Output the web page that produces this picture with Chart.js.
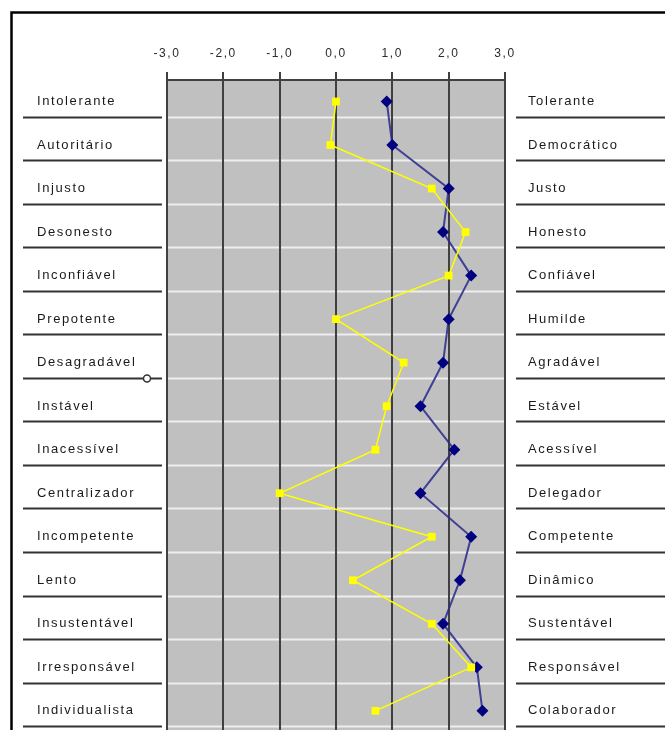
<!DOCTYPE html>
<html>
<head>
<meta charset="utf-8">
<script src="https://cdn.jsdelivr.net/npm/chart.js@4.4.1/dist/chart.umd.min.js"></script>
<style>
  html, body { margin: 0; padding: 0; background: #fff; }
  #wrap { width: 665px; height: 730px; position: relative; }
</style>
</head>
<body>
<div id="wrap"><canvas id="c"></canvas></div>
<script>
// Semantic differential: negative pole on the left, positive pole on the right
const leftLabels = ['Intolerante', 'Autoritário', 'Injusto', 'Desonesto', 'Inconfiável',
  'Prepotente', 'Desagradável', 'Instável', 'Inacessível', 'Centralizador',
  'Incompetente', 'Lento', 'Insustentável', 'Irresponsável', 'Individualista'];
const rightLabels = ['Tolerante', 'Democrático', 'Justo', 'Honesto', 'Confiável',
  'Humilde', 'Agradável', 'Estável', 'Acessível', 'Delegador',
  'Competente', 'Dinâmico', 'Sustentável', 'Responsável', 'Colaborador'];

// Mean scores per attribute pair
const yellowSeries = [0.0, -0.1, 1.7, 2.3, 2.0, 0.0, 1.2, 0.9, 0.7, -1.0, 1.7, 0.3, 1.7, 2.4, 0.7];
const blueSeries   = [0.9, 1.0, 2.0, 1.9, 2.4, 2.0, 1.9, 1.5, 2.1, 1.5, 2.4, 2.2, 1.9, 2.5, 2.6];

// Scale ticks along the top
const scaleTicks = [-3, -2, -1, 0, 1, 2, 3];

const SEP = 0.35;            // row divider sits a little below each row's value line
const Y_MIN = -0.494, Y_MAX = 14.44;
const FONT = "'Liberation Sans', Arial, sans-serif";

const toPoints = arr => arr.map((v, i) => ({ x: v, y: i }));

const sheetPlugin = {
  id: 'sheet',
  beforeDraw(chart) {
    const { ctx, chartArea: a, scales } = chart;
    const ys = scales.y;
    ctx.save();
    // page background and frame
    ctx.fillStyle = '#ffffff';
    ctx.fillRect(0, 0, chart.width, chart.height);
    ctx.strokeStyle = '#000';
    ctx.lineWidth = 2.5;
    ctx.strokeRect(11.5, 12.5, 700, 760);
    // plot background
    ctx.fillStyle = '#c0c0c0';
    ctx.fillRect(a.left, a.top, a.right - a.left, a.bottom - a.top);
    // row dividers
    for (let i = 0; i < leftLabels.length; i++) {
      const y = Math.round(ys.getPixelForValue(i + SEP)) + 0.5;
      ctx.lineWidth = 2;
      ctx.strokeStyle = '#eeeeee';
      ctx.beginPath(); ctx.moveTo(a.left, y); ctx.lineTo(a.right, y); ctx.stroke();
      ctx.strokeStyle = '#333333';
      ctx.beginPath(); ctx.moveTo(23, y); ctx.lineTo(162, y); ctx.stroke();
      ctx.beginPath(); ctx.moveTo(516, y); ctx.lineTo(chart.width, y); ctx.stroke();
    }
    // small handle on the "Desagradável" divider
    const hy = Math.round(ys.getPixelForValue(6 + SEP)) + 0.5;
    ctx.fillStyle = '#ffffff';
    ctx.strokeStyle = '#333333';
    ctx.lineWidth = 1.5;
    ctx.beginPath(); ctx.arc(147, hy, 3.5, 0, Math.PI * 2); ctx.fill(); ctx.stroke();
    ctx.restore();
    ctx.letterSpacing = '1.6px';
  }
};

const yAxisBase = {
  type: 'linear',
  reverse: true,
  min: Y_MIN,
  max: Y_MAX,
  grid: { display: false, drawTicks: false },
  border: { display: false },
  afterBuildTicks(scale) { scale.ticks = leftLabels.map((_, i) => ({ value: i })); }
};

const fixWidth = w => scale => {
  scale.width = w;
  scale.paddingTop = 0;
  scale.paddingBottom = 0;
};

new Chart(document.getElementById('c'), {
  type: 'scatter',
  data: {
    datasets: [
      {
        label: 'A',
        data: toPoints(yellowSeries),
        showLine: true,
        borderColor: '#ffff00',
        backgroundColor: '#ffff00',
        borderWidth: 1.5,
        pointStyle: 'rect',
        pointRadius: 5.5,
        pointBorderWidth: 0
      },
      {
        label: 'B',
        data: toPoints(blueSeries),
        showLine: true,
        borderColor: 'rgba(40,40,140,0.85)',
        backgroundColor: '#000080',
        borderWidth: 2,
        pointStyle: 'rectRot',
        pointRadius: 6,
        pointBorderWidth: 0
      }
    ]
  },
  options: {
    responsive: true,
    maintainAspectRatio: false,
    animation: false,
    events: [],
    layout: { autoPadding: false, padding: { left: 37, right: 0, top: 0, bottom: 0 } },
    plugins: { legend: { display: false }, tooltip: { enabled: false } },
    scales: {
      x: {
        type: 'linear',
        position: 'top',
        min: -3,
        max: 3,
        afterBuildTicks(scale) { scale.ticks = scaleTicks.map(v => ({ value: v })); },
        afterFit(scale) { scale.height = 80; scale.paddingLeft = 0; scale.paddingRight = 0; },
        grid: { color: '#404040', lineWidth: 2, tickLength: 8, drawTicks: true },
        border: { display: true, color: '#404040', width: 2 },
        ticks: {
          color: '#2a2a2a',
          padding: 11,
          font: { family: FONT, size: 12 },
          callback: v => v.toFixed(1).replace('.', ',')
        }
      },
      y: Object.assign({}, yAxisBase, {
        position: 'left',
        afterFit: fixWidth(130),
        ticks: {
          crossAlign: 'far',
          color: '#1a1a1a',
          font: { family: FONT, size: 13 },
          autoSkip: false,
          callback: (v) => leftLabels[v]
        }
      }),
      y2: Object.assign({}, yAxisBase, {
        position: 'right',
        afterFit: fixWidth(160),
        ticks: {
          crossAlign: 'near',
          padding: 23,
          color: '#1a1a1a',
          font: { family: FONT, size: 13 },
          autoSkip: false,
          callback: (v) => rightLabels[v]
        }
      })
    }
  },
  plugins: [sheetPlugin]
});
</script>
</body>
</html>
